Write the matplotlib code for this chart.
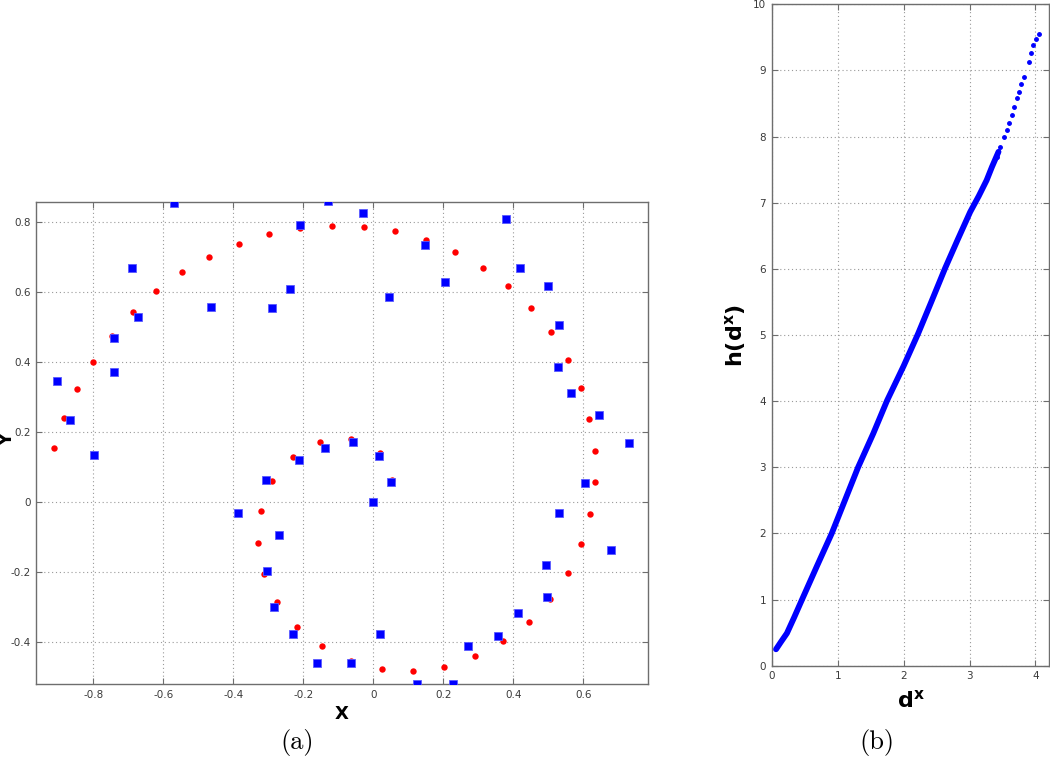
import matplotlib
matplotlib.use("Agg")
import matplotlib.pyplot as plt

plt.rcParams["mathtext.fontset"] = "dejavusans"

# ---------------- data: panel (a) ----------------
red_x = [-0.912, -0.884, -0.847, -0.800, -0.747, -0.687, -0.620, -0.547, -0.469, -0.384,
         -0.298, -0.209, -0.118, -0.027, 0.061, 0.151, 0.233, 0.313, 0.386, 0.451,
         0.508, 0.556, 0.593, 0.617, 0.632, 0.632, 0.619, 0.594, 0.556, 0.505,
         0.444, 0.371, 0.291, 0.203, 0.113, 0.024,
         -0.065, -0.147, -0.217, -0.274, -0.313, -0.329, -0.322, -0.290, -0.230, -0.153,
         -0.064, 0.019, 0.054]
red_y = [0.155, 0.242, 0.325, 0.402, 0.475, 0.544, 0.605, 0.657, 0.702, 0.739,
         0.766, 0.784, 0.790, 0.787, 0.774, 0.749, 0.716, 0.671, 0.617, 0.556,
         0.486, 0.407, 0.326, 0.237, 0.147, 0.057, -0.033, -0.119, -0.202, -0.277,
         -0.342, -0.397, -0.440, -0.469, -0.481, -0.475,
         -0.453, -0.411, -0.355, -0.286, -0.204, -0.115, -0.026, 0.060, 0.129, 0.172,
         0.181, 0.142, 0.063]

blue_x = [-0.905, -0.867, -0.797, -0.742, -0.740, -0.672, -0.689, -0.570, -0.465, -0.289,
          -0.238, -0.209, -0.129, -0.029, 0.046, 0.147, 0.206, 0.378, 0.420, 0.500,
          0.531, 0.528, 0.566, 0.646, 0.731, 0.604, 0.530, 0.680, 0.493, 0.495,
          0.413, 0.357, 0.271, 0.227, 0.125, 0.019,
          -0.065, -0.162, -0.229, -0.285, -0.303, -0.269, -0.387, -0.306, -0.213, -0.137,
          -0.059, 0.017, 0.051, 0.000]
blue_y = [0.346, 0.235, 0.136, 0.372, 0.471, 0.531, 0.671, 0.856, 0.558, 0.556,
          0.611, 0.792, 0.860, 0.827, 0.587, 0.734, 0.629, 0.810, 0.669, 0.617,
          0.507, 0.388, 0.312, 0.249, 0.171, 0.054, -0.029, -0.135, -0.179, -0.271,
          -0.317, -0.383, -0.411, -0.519, -0.518, -0.376,
          -0.459, -0.459, -0.376, -0.298, -0.197, -0.094, -0.031, 0.064, 0.120, 0.155,
          0.173, 0.132, 0.057, 0.000]

a_xticks = [-0.8, -0.6, -0.4, -0.2, 0, 0.2, 0.4, 0.6]
a_xticklabels = ["-0.8", "-0.6", "-0.4", "-0.2", "0", "0.2", "0.4", "0.6"]
a_yticks = [-0.4, -0.2, 0, 0.2, 0.4, 0.6, 0.8]
a_yticklabels = ["-0.4", "-0.2", "0", "0.2", "0.4", "0.6", "0.8"]

# ---------------- data: panel (b) ----------------
curve_d = [0.065, 0.14, 0.23, 0.34, 0.455, 0.683, 0.91, 1.11, 1.31, 1.54, 1.75,
           2.00, 2.22, 2.42, 2.63, 2.82, 3.01, 3.14, 3.26, 3.34, 3.44]
curve_h = [0.248, 0.36, 0.49, 0.73, 0.99, 1.50, 2.00, 2.50, 3.00, 3.51, 4.01,
           4.53, 5.02, 5.50, 6.01, 6.44, 6.86, 7.10, 7.34, 7.54, 7.77]
tail_d = [3.41, 3.47, 3.53, 3.57, 3.60, 3.64, 3.68, 3.72, 3.75, 3.78, 3.82,
          3.90, 3.93, 3.97, 4.01, 4.056]
tail_h = [7.69, 7.85, 8.00, 8.10, 8.20, 8.33, 8.45, 8.58, 8.68, 8.80, 8.90,
          9.13, 9.27, 9.38, 9.47, 9.55]

b_xticks = [0, 1, 2, 3, 4]
b_yticks = [0, 1, 2, 3, 4, 5, 6, 7, 8, 9, 10]

# ---------------- figure ----------------
fig = plt.figure(figsize=(10.5, 7.58), dpi=100)
spine_col = "#6e6e6e"
tick_col = "#3a3a3a"


def style(ax):
    for s in ax.spines.values():
        s.set_color(spine_col)
        s.set_linewidth(1.0)
    ax.tick_params(direction="in", length=4, width=0.8, colors=spine_col,
                   labelcolor=tick_col, labelsize=7.5, top=True, right=True,
                   pad=4)
    ax.grid(True, linestyle=(0, (1, 2.5)), color="#9a9a9a", linewidth=0.8)
    ax.set_axisbelow(True)


# panel (a)
ax1 = fig.add_axes([0.0343, 0.0976, 0.5829, 0.6363])
ax1.plot(red_x, red_y, "o", color="#ff0000", markersize=4.6, markeredgewidth=0,
         linestyle="none", zorder=3)
ax1.plot(blue_x, blue_y, "s", color="#0000ff", markersize=6.0,
         markeredgecolor="#5a5aff", markeredgewidth=0.6, linestyle="none", zorder=4)
ax1.set_xlim(-0.964, 0.785)
ax1.set_ylim(-0.519, 0.859)
ax1.set_xticks(a_xticks)
ax1.set_xticklabels(a_xticklabels)
ax1.set_yticks(a_yticks)
ax1.set_yticklabels(a_yticklabels)
style(ax1)
ax1.set_xlabel("X", fontsize=13, fontweight="bold", labelpad=4)
fig.text(0.0072, 0.42, "Y", fontsize=13, fontweight="bold", rotation=90,
         ha="center", va="center")

# panel (b)
ax2 = fig.add_axes([0.7350, 0.1218, 0.2643, 0.8725])
ax2.plot(curve_d, curve_h, "-", color="#0000ff", linewidth=4.2,
         solid_capstyle="round", solid_joinstyle="round", zorder=3)
ax2.plot(tail_d, tail_h, ".", color="#0000ff", markersize=5, zorder=3)
ax2.set_xlim(0, 4.21)
ax2.set_ylim(0, 10)
ax2.set_xticks(b_xticks)
ax2.set_yticks(b_yticks)
style(ax2)
ax2.set_xlabel(r"$\mathbf{d^{x}}$", fontsize=16, labelpad=6)
ax2.set_ylabel(r"$\mathbf{h(d^{x})}$", fontsize=16, labelpad=4)

# captions
fig.text(0.283, 0.021, "(a)", fontsize=19, family="cmr10", ha="center", va="center")
fig.text(0.835, 0.021, "(b)", fontsize=19, family="cmr10", ha="center", va="center")

fig.savefig("out.png", dpi=100)
